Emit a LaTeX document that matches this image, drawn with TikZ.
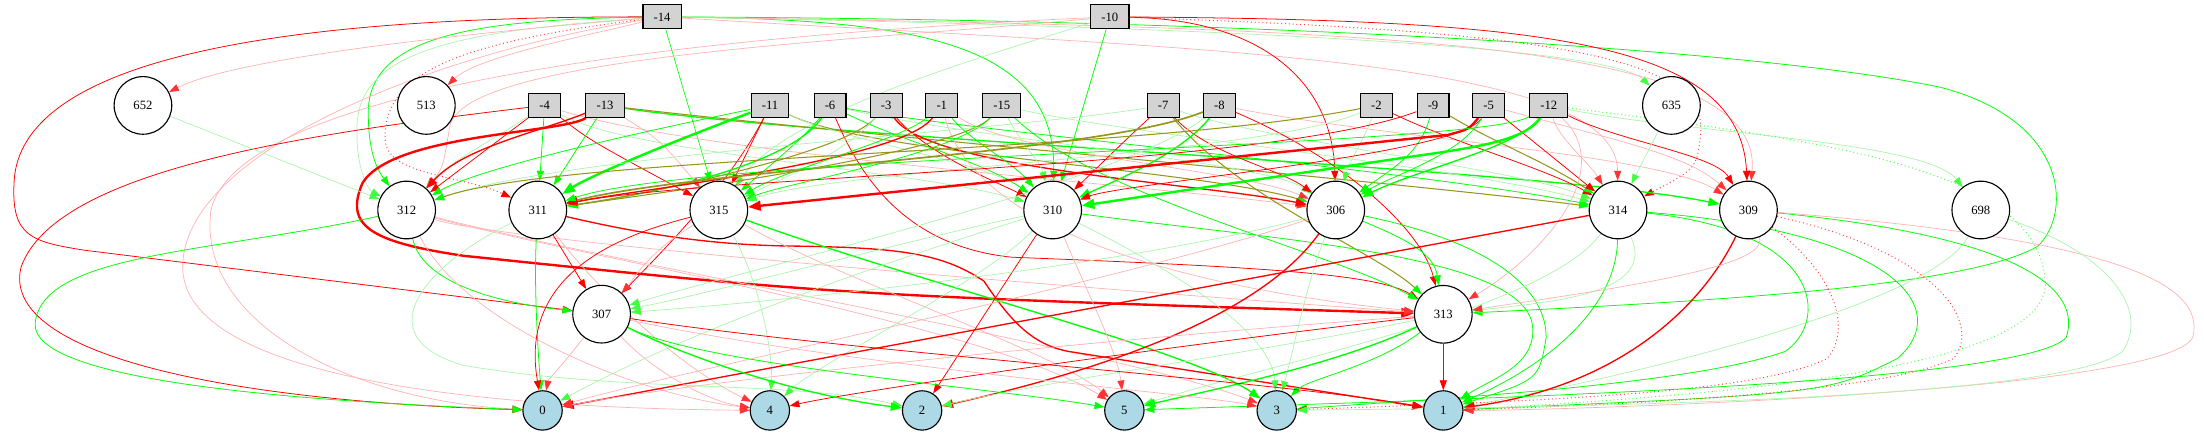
\documentclass[tikz,border=0pt]{standalone}
\usepackage{fontspec}
\setmainfont{Liberation Serif}
\usetikzlibrary{arrows.meta}
\definecolor{G}{RGB}{0,255,0}
\definecolor{R}{RGB}{255,0,0}
\definecolor{LG}{RGB}{170,245,170}
\definecolor{LR}{RGB}{255,178,178}
\definecolor{OL}{RGB}{150,150,30}
\definecolor{boxgray}{RGB}{211,211,211}
\definecolor{outblue}{RGB}{173,216,230}
\pgfdeclarelayer{bg}
\pgfsetlayers{bg,main}
\tikzset{
  lab/.style={font=\fontsize{9}{10}\selectfont},
  inp/.style={lab, draw=black, line width=0.8pt, fill=boxgray, minimum height=17pt, inner xsep=7.6pt, inner ysep=0pt},
  hid/.style={lab, circle, draw=black, line width=0.8pt, fill=white, minimum size=41pt, inner sep=0pt},
  outn/.style={lab, circle, draw=black, line width=0.8pt, fill=outblue, minimum size=28pt, inner sep=0pt},
  eG/.style={draw=G, line width=0.55pt, -{Triangle[length=7pt,width=5pt,color=G]}},
  eGth/.style={draw=G, line width=0.45pt, -{Triangle[length=7pt,width=5pt,color=G]}},
  eGM/.style={draw=G, line width=0.95pt, -{Triangle[length=8pt,width=6pt,color=G]}},
  eGT/.style={draw=G, line width=1.7pt, -{Triangle[length=9pt,width=7pt,color=G]}},
  eGL/.style={draw=LG, line width=0.5pt, -{Triangle[length=7pt,width=5pt,color=G!75]}},
  eGD/.style={draw=G!70, line width=0.7pt, dotted, -{Triangle[length=7pt,width=5pt,color=G]}},
  eR/.style={draw=R, line width=0.55pt, -{Triangle[length=7pt,width=5pt,color=R]}},
  eRM/.style={draw=R, line width=0.95pt, -{Triangle[length=8pt,width=6pt,color=R]}},
  eRT/.style={draw=R, line width=1.7pt, -{Triangle[length=9pt,width=7pt,color=R]}},
  eRL/.style={draw=LR, line width=0.5pt, -{Triangle[length=7pt,width=5pt,color=R!80]}},
  eRD/.style={draw=R!75, line width=0.7pt, dotted, -{Triangle[length=7pt,width=5pt,color=R]}},
  eOL/.style={draw=OL, line width=0.75pt, -{Triangle[length=7pt,width=5pt,color=G]}},
  eOLM/.style={draw=OL, line width=1.2pt, -{Triangle[length=8pt,width=6pt,color=R]}},
}
\begin{document}
\begin{tikzpicture}[x=1pt,y=-1pt]
\useasboundingbox (0,0) rectangle (1568,310);
% inputs
\node[inp] (i14) at (471,12) {-14};
\node[inp] (i10) at (789.6,12) {-10};
\node[inp] (i4) at (387.5,75) {-4};
\node[inp] (i13) at (430.4,75) {-13};
\node[inp] (i11) at (547.8,75) {-11};
\node[inp] (i6) at (590.5,75) {-6};
\node[inp] (i3) at (630.4,75) {-3};
\node[inp] (i1) at (670,75) {-1};
\node[inp] (i15) at (712.7,75) {-15};
\node[inp] (i7) at (827.5,75) {-7};
\node[inp] (i8) at (867.5,75) {-8};
\node[inp] (i2) at (979.2,75) {-2};
\node[inp] (i9) at (1019.5,75) {-9};
\node[inp] (i5) at (1059.1,75) {-5};
\node[inp] (i12) at (1101.8,75) {-12};
% hidden
\node[hid] (h652) at (101.7,75) {652};
\node[hid] (h513) at (303.3,75) {513};
\node[hid] (h635) at (1189.1,75) {635};
\node[hid] (h312) at (289.3,149.4) {312};
\node[hid] (h311) at (382.6,149.4) {311};
\node[hid] (h315) at (511.4,149.4) {315};
\node[hid] (h310) at (748.9,149.4) {310};
\node[hid] (h306) at (950.3,149.4) {306};
\node[hid] (h314) at (1151.1,149.4) {314};
\node[hid] (h309) at (1243.9,149.4) {309};
\node[hid] (h698) at (1409.2,149.4) {698};
\node[hid] (h307) at (428,223.5) {307};
\node[hid] (h313) at (1026.8,223.6) {313};
% outputs
\node[outn] (o0) at (386,292) {0};
\node[outn] (o4) at (547.7,292) {4};
\node[outn] (o2) at (656,292) {2};
\node[outn] (o5) at (799.9,292) {5};
\node[outn] (o3) at (908.3,292) {3};
\node[outn] (o1) at (1026.8,292) {1};

\begin{pgfonlayer}{bg}
% ---- -14
\draw[eR] (i14) .. controls (250,12) and (14,30) .. (10,130) .. controls (8,168) and (22,172) .. (60,178) -- (h307);
\draw[eG] (i14) .. controls (340,14) and (262,25) .. (262,80) .. controls (262,108) and (268,120) .. (h312);
\draw[eGL] (i14) .. controls (330,22) and (255,35) .. (254,90) .. controls (253,120) and (262,135) .. (h312);
\draw[eRD] (i14) .. controls (330,30) and (272,50) .. (274,100) .. controls (276,125) and (330,125) .. (h311);
\draw[eRL] (i14) .. controls (350,22) and (170,40) .. (h652);
\draw[eRL] (i14) .. controls (420,25) and (340,40) .. (h513);
\draw[eGth] (i14) -- (h315);
\draw[eG] (i14) .. controls (650,14) and (752,30) .. (h310);
\draw[eG] (i14) .. controls (900,14) and (1250,35) .. (1380,62) .. controls (1470,85) and (1475,150) .. (1450,175) .. controls (1400,205) and (1200,215) .. (h313);
\draw[eGL] (i14) .. controls (800,18) and (1140,30) .. (h635);
\draw[eRL] (i14) .. controls (1000,20) and (1255,30) .. (h309);
\draw[eRL] (i14) .. controls (850,35) and (1150,40) .. (h314);
\draw[eRL] (i14) .. controls (300,40) and (130,110) .. (130,190) .. controls (130,260) and (300,290) .. (o4);
% ---- -10
\draw[eG] (i10) -- (h310);
\draw[eR] (i10) .. controls (900,14) and (948,60) .. (h306);
\draw[eR] (i10) .. controls (1100,14) and (1238,30) .. (h309);
\draw[eRD] (i10) .. controls (1100,22) and (1215,40) .. (1210,95) .. controls (1207,120) .. (h314);
\draw[eRL] (i10) .. controls (600,30) and (330,40) .. (320,90) .. controls (315,120) .. (h312);
\draw[eRL] (i10) .. controls (500,25) and (170,60) .. (150,150) .. controls (140,230) and (250,285) .. (o0);
\draw[eGL] (i10) .. controls (700,40) and (560,80) .. (h315);
% ---- -4
\draw[eG] (i4) -- (h311);
\draw[eR] (i4) -- (h312);
\draw[eR] (i4) .. controls (420,100) .. (h315);
\draw[eGL] (i4) .. controls (450,110) and (650,120) .. (h310);
\draw[eRL] (i4) .. controls (500,110) and (800,130) .. (h306);
\draw[eR] (i4) .. controls (220,95) and (40,120) .. (15,190) .. controls (0,250) and (150,285) .. (o0);
\draw[eGL] (i4) .. controls (350,100) and (320,115) .. (h312);
% ---- -13
\draw[eRT] (i13) .. controls (400,95) and (280,95) .. (258,130) .. controls (245,160) and (262,172) .. (330,182) .. controls (600,210) .. (h313);
\draw[eG] (i13) -- (h311);
\draw[eRM] (i13) .. controls (380,95) and (330,105) .. (h312);
\draw[eGM] (i13) .. controls (600,100) and (1100,120) .. (h309);
\draw[eOL] (i13) .. controls (600,95) and (1000,130) .. (h314);
\draw[eRL] (i13) .. controls (470,100) .. (h315);
% ---- -11
\draw[eGT] (i11) .. controls (480,100) and (420,125) .. (h311);
\draw[eG] (i11) .. controls (450,95) and (340,120) .. (h312);
\draw[eR] (i11) -- (h315);
\draw[eOL] (i11) .. controls (620,110) and (850,120) .. (h306);
\draw[eR] (i11) .. controls (520,130) and (470,180) .. (h307);
\draw[eGL] (i11) .. controls (600,100) and (700,115) .. (h310);
% ---- -6
\draw[eGM] (i6) .. controls (560,120) and (450,140) .. (h311);
\draw[eG] (i6) .. controls (570,100) and (545,120) .. (h315);
\draw[eR] (i6) .. controls (610,120) and (640,175) .. (720,183) .. controls (900,190) and (980,195) .. (h313);
\draw[eG] (i6) .. controls (640,100) and (700,115) .. (h310);
\draw[eGL] (i6) .. controls (700,100) and (900,115) .. (h306);
\draw[eG] (i6) .. controls (700,95) and (1000,120) .. (h314);
% ---- -3
\draw[eOL] (i3) .. controls (600,110) and (450,140) .. (h311);
\draw[eRM] (i3) .. controls (660,120) and (850,130) .. (h306);
\draw[eR] (i3) .. controls (660,110) and (710,130) .. (h310);
\draw[eGL] (i3) .. controls (600,110) and (560,125) .. (h315);
% ---- -1
\draw[eRM] (i1) .. controls (640,115) and (450,135) .. (h311);
\draw[eG] (i1) .. controls (690,100) and (720,115) .. (h310);
\draw[eRL] (i1) .. controls (690,150) and (800,200) .. (h313);
\draw[eG] (i1) .. controls (640,100) and (560,120) .. (h315);
\draw[eRL] (i1) .. controls (720,110) and (880,120) .. (h306);
% ---- -15
\draw[eOL] (i15) .. controls (680,110) and (450,140) .. (h311);
\draw[eG] (i15) .. controls (680,110) and (560,130) .. (h315);
\draw[eGL] (i15) .. controls (725,100) and (740,115) .. (h310);
\draw[eG] (i15) .. controls (780,140) and (950,180) .. (h313);
\draw[eGL] (i15) .. controls (800,95) and (1050,120) .. (h314);
% ---- -7
\draw[eGL] (i7) .. controls (700,95) and (400,110) .. (h312);
\draw[eR] (i7) .. controls (860,110) and (910,120) .. (h306);
\draw[eOL] (i7) .. controls (880,140) and (980,180) .. (h313);
\draw[eGL] (i7) .. controls (900,100) and (1080,120) .. (h314);
\draw[eR] (i7) .. controls (800,100) and (780,120) .. (h310);
% ---- -8
\draw[eOLM] (i8) .. controls (780,110) and (500,120) .. (h311);
\draw[eGM] (i8) .. controls (840,110) and (790,130) .. (h310);
\draw[eR] (i8) .. controls (950,110) and (1010,160) .. (h313);
\draw[eRL] (i8) .. controls (1000,100) and (1180,110) .. (h309);
\draw[eGL] (i8) .. controls (800,130) and (500,200) .. (h307);
% ---- -2
\draw[eOL] (i2) .. controls (800,110) and (400,110) .. (h312);
\draw[eR] (i2) .. controls (1030,100) and (1100,120) .. (h314);
\draw[eGL] (i2) .. controls (970,100) and (960,115) .. (h306);
\draw[eGL] (i2) .. controls (900,110) and (600,120) .. (h315);
% ---- -9
\draw[eR] (i9) .. controls (900,120) and (500,125) .. (h311);
\draw[eG] (i9) .. controls (1010,110) and (990,120) .. (h306);
\draw[eOL] (i9) .. controls (1060,100) and (1100,115) .. (h314);
% ---- -5
\draw[eRT] (i5) .. controls (1045,92) .. (1030,96) -- (h315);
\draw[eR] (i5) .. controls (1040,110) and (800,130) .. (h310);
\draw[eR] (i5) -- (h314);
\draw[eG] (i5) .. controls (1040,110) and (990,125) .. (h306);
\draw[eRL] (i5) .. controls (1150,100) and (1200,110) .. (h309);
% ---- -12
\draw[eGT] (i12) .. controls (1085,100) and (1050,105) .. (1000,112) -- (h310);
\draw[eGM] (i12) .. controls (1080,105) and (1010,120) .. (h306);
\draw[eRL] (i12) .. controls (1110,100) and (1130,115) .. (h314);
\draw[eR] (i12) .. controls (1150,100) and (1220,110) .. (h309);
\draw[eGL] (i12) .. controls (1200,95) and (1370,100) .. (h698);
\draw[eRL] (i12) .. controls (1150,120) and (1100,180) .. (h313);
\draw[eGD] (i12) .. controls (1300,100) and (1450,120) .. (1455,200) .. controls (1460,260) and (1250,280) .. (o1);
\draw[eG] (i12) .. controls (1050,105) and (500,110) .. (h311);
% ---- 635 698 652
\draw[eGL] (h635) -- (h314);
\draw[eGL] (h698) .. controls (1380,210) and (1200,260) .. (o1);
\draw[eGL] (h652) -- (h312);
% ---- 312
\draw[eG] (h312) .. controls (150,180) and (30,180) .. (25,230) .. controls (22,270) and (200,285) .. (o0);
\draw[eG] (h312) .. controls (300,200) and (350,215) .. (h307);
\draw[eRL] (h312) .. controls (330,230) and (450,280) .. (o4);
\draw[eRL] (h312) .. controls (450,190) and (800,250) .. (o3);
\draw[eRL] (h312) .. controls (400,180) and (700,230) .. (o5);
\draw[eRL] (h312) .. controls (350,170) and (700,200) .. (h313);
% ---- 311
\draw[eRM] (h311) .. controls (450,165) and (500,174) .. (560,175) .. controls (640,176) and (670,180) .. (700,200) .. controls (720,230) and (735,245) .. (760,250) -- (o1);
\draw[eR] (h311) -- (h307);
\draw[eG] (h311) .. controls (380,200) and (382,240) .. (o0);
\draw[eGL] (h311) .. controls (300,190) and (260,240) .. (330,260) .. controls (450,280) and (560,270) .. (o2);
\draw[eRL] (h311) .. controls (420,200) and (480,260) .. (o4);
% ---- 315
\draw[eR] (h315) .. controls (430,170) and (370,200) .. (o0);
\draw[eGM] (h315) .. controls (650,200) and (850,250) .. (o3);
\draw[eRL] (h315) .. controls (600,200) and (750,250) .. (o5);
\draw[eGL] (h315) .. controls (540,200) and (550,250) .. (o4);
\draw[eRL] (h315) .. controls (460,180) and (450,200) .. (h307);
% ---- 310
\draw[eR] (h310) -- (o2);
\draw[eRL] (h310) .. controls (770,200) and (795,250) .. (o5);
\draw[eGL] (h310) .. controls (850,200) and (905,240) .. (o3);
\draw[eG] (h310) .. controls (900,170) and (1080,180) .. (1090,230) .. controls (1095,260) and (1060,270) .. (o1);
\draw[eGL] (h310) .. controls (700,200) and (580,260) .. (o4);
\draw[eGL] (h310) .. controls (650,180) and (500,230) .. (o0);
\draw[eGL] (h310) .. controls (650,170) and (500,210) .. (h307);
% ---- 306
\draw[eRM] (h306) .. controls (900,220) and (800,260) .. (o2);
\draw[eG] (h306) .. controls (1000,170) and (1020,180) .. (h313);
\draw[eG] (h306) .. controls (1050,170) and (1100,200) .. (1100,240) .. controls (1095,270) .. (o1);
\draw[eGL] (h306) .. controls (800,190) and (550,215) .. (h307);
\draw[eRL] (h306) .. controls (800,200) and (500,260) .. (o0);
\draw[eGL] (h306) .. controls (930,200) and (920,250) .. (o3);
% ---- 314
\draw[eRM] (h314) -- (o0);
\draw[eG] (h314) .. controls (1150,220) and (1100,260) .. (o1);
\draw[eGL] (h314) .. controls (1100,220) and (900,260) .. (o5);
\draw[eG] (h314) .. controls (1300,165) and (1300,230) .. (1270,250) .. controls (1200,275) and (1000,285) .. (o3);
\draw[eG] (h314) .. controls (1350,165) and (1390,220) .. (1350,255) .. controls (1300,280) .. (o1);
\draw[eGL] (h314) .. controls (1180,210) and (1100,215) .. (h313);
% ---- 309
\draw[eRM] (h309) .. controls (1210,220) and (1150,275) .. (o1);
\draw[eRL] (h309) .. controls (1260,190) and (1150,205) .. (h313);
\draw[eRD] (h309) .. controls (1300,190) and (1320,230) .. (1300,255) .. controls (1250,280) and (1100,285) .. (o3);
\draw[eRD] (h309) .. controls (1380,180) and (1410,230) .. (1390,255) .. controls (1340,280) and (1150,288) .. (o1);
\draw[eG] (h309) .. controls (1450,170) and (1480,210) .. (1470,240) .. controls (1440,275) and (1000,285) .. (o5);
\draw[eRL] (h309) .. controls (1500,170) and (1570,200) .. (1560,240) .. controls (1540,280) and (1100,292) .. (o1);
\draw[eGL] (h698) .. controls (1500,180) and (1530,220) .. (1510,250) .. controls (1470,285) and (1100,290) .. (o3);
% ---- 313
\draw[eR] (h313) -- (o1);
\draw[eRL] (h313) .. controls (800,240) and (500,270) .. (o0);
\draw[eR] (h313) .. controls (800,250) and (600,280) .. (o4);
\draw[eGL] (h313) .. controls (900,250) and (750,270) .. (o2);
\draw[eGM] (h313) .. controls (950,260) and (850,280) .. (o5);
\draw[eG] (h313) .. controls (980,260) and (930,270) .. (o3);
% ---- 307
\draw[eGM] (h307) .. controls (480,250) and (560,280) .. (o2);
\draw[eG] (h307) .. controls (500,260) and (700,275) .. (o5);
\draw[eR] (h307) .. controls (600,250) and (900,270) .. (o1);
\draw[eRL] (h307) .. controls (460,260) and (500,285) .. (o4);
\draw[eRL] (h307) .. controls (600,260) and (850,280) .. (o3);
\draw[eRL] (h307) .. controls (400,260) and (390,270) .. (o0);
\end{pgfonlayer}
\end{tikzpicture}
\end{document}
